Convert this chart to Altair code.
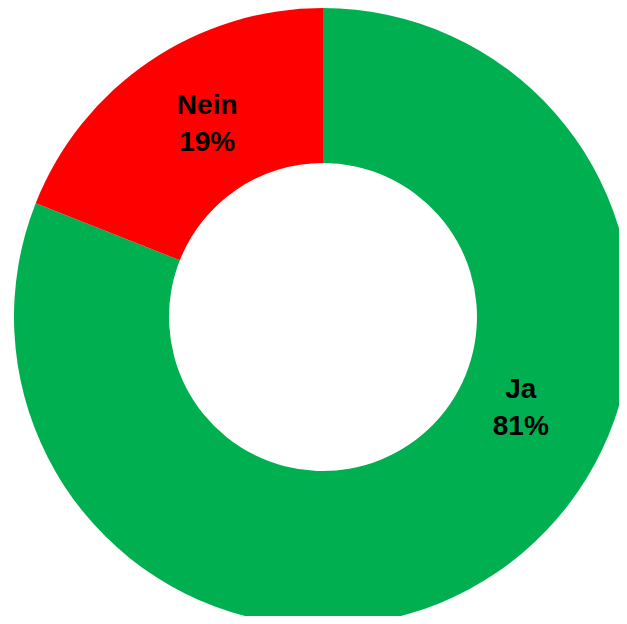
import altair as alt
import pandas as pd

categories = ["Ja", "Nein"]
values = [81, 19]
colors = ["#00B050", "#FF0000"]
labels = ["Ja\n81%", "Nein\n19%"]

df = pd.DataFrame({"cat": categories, "val": values, "label": labels, "ord": [0, 1]})

W, H = 611, 608
cx, cy = 315, 309

arc = alt.Chart(df).mark_arc(outerRadius=309, innerRadius=154, stroke=None).encode(
    theta=alt.Theta("val:Q", stack=True),
    order=alt.Order("ord:Q"),
    color=alt.Color("cat:N", scale=alt.Scale(domain=categories, range=colors), legend=None),
    x=alt.value(cx),
    y=alt.value(cy),
)

text_base = alt.Chart(df).transform_window(
    cum="sum(val)", sort=[alt.SortField("ord")], frame=[None, 0]
).transform_joinaggregate(
    total="sum(val)"
).transform_calculate(
    mid="(datum.cum - datum.val / 2) / datum.total"
)

def lab(cat, dx, dy):
    return text_base.transform_filter(alt.datum.cat == cat).mark_text(
        radius=222, font="Liberation Sans", fontWeight="bold", fontSize=28,
        lineBreak="\n", lineHeight=37, color="black", dx=dx, dy=dy,
        align="center", baseline="middle",
    ).encode(
        theta=alt.Theta("mid:Q", stack=False, scale=alt.Scale(domain=[0, 1])),
        text="label:N", x=alt.value(cx), y=alt.value(cy),
    )

labels_layer = alt.layer(lab("Nein", 9, -27), lab("Ja", 73, -111))

chart = alt.layer(arc, labels_layer).resolve_scale(theta="independent").properties(
    width=W, height=H, padding=0, autosize=alt.AutoSizeParams(type="none")
).configure_view(stroke=None)

chart.save("out.html", embed_options={"renderer": "svg", "actions": False})
